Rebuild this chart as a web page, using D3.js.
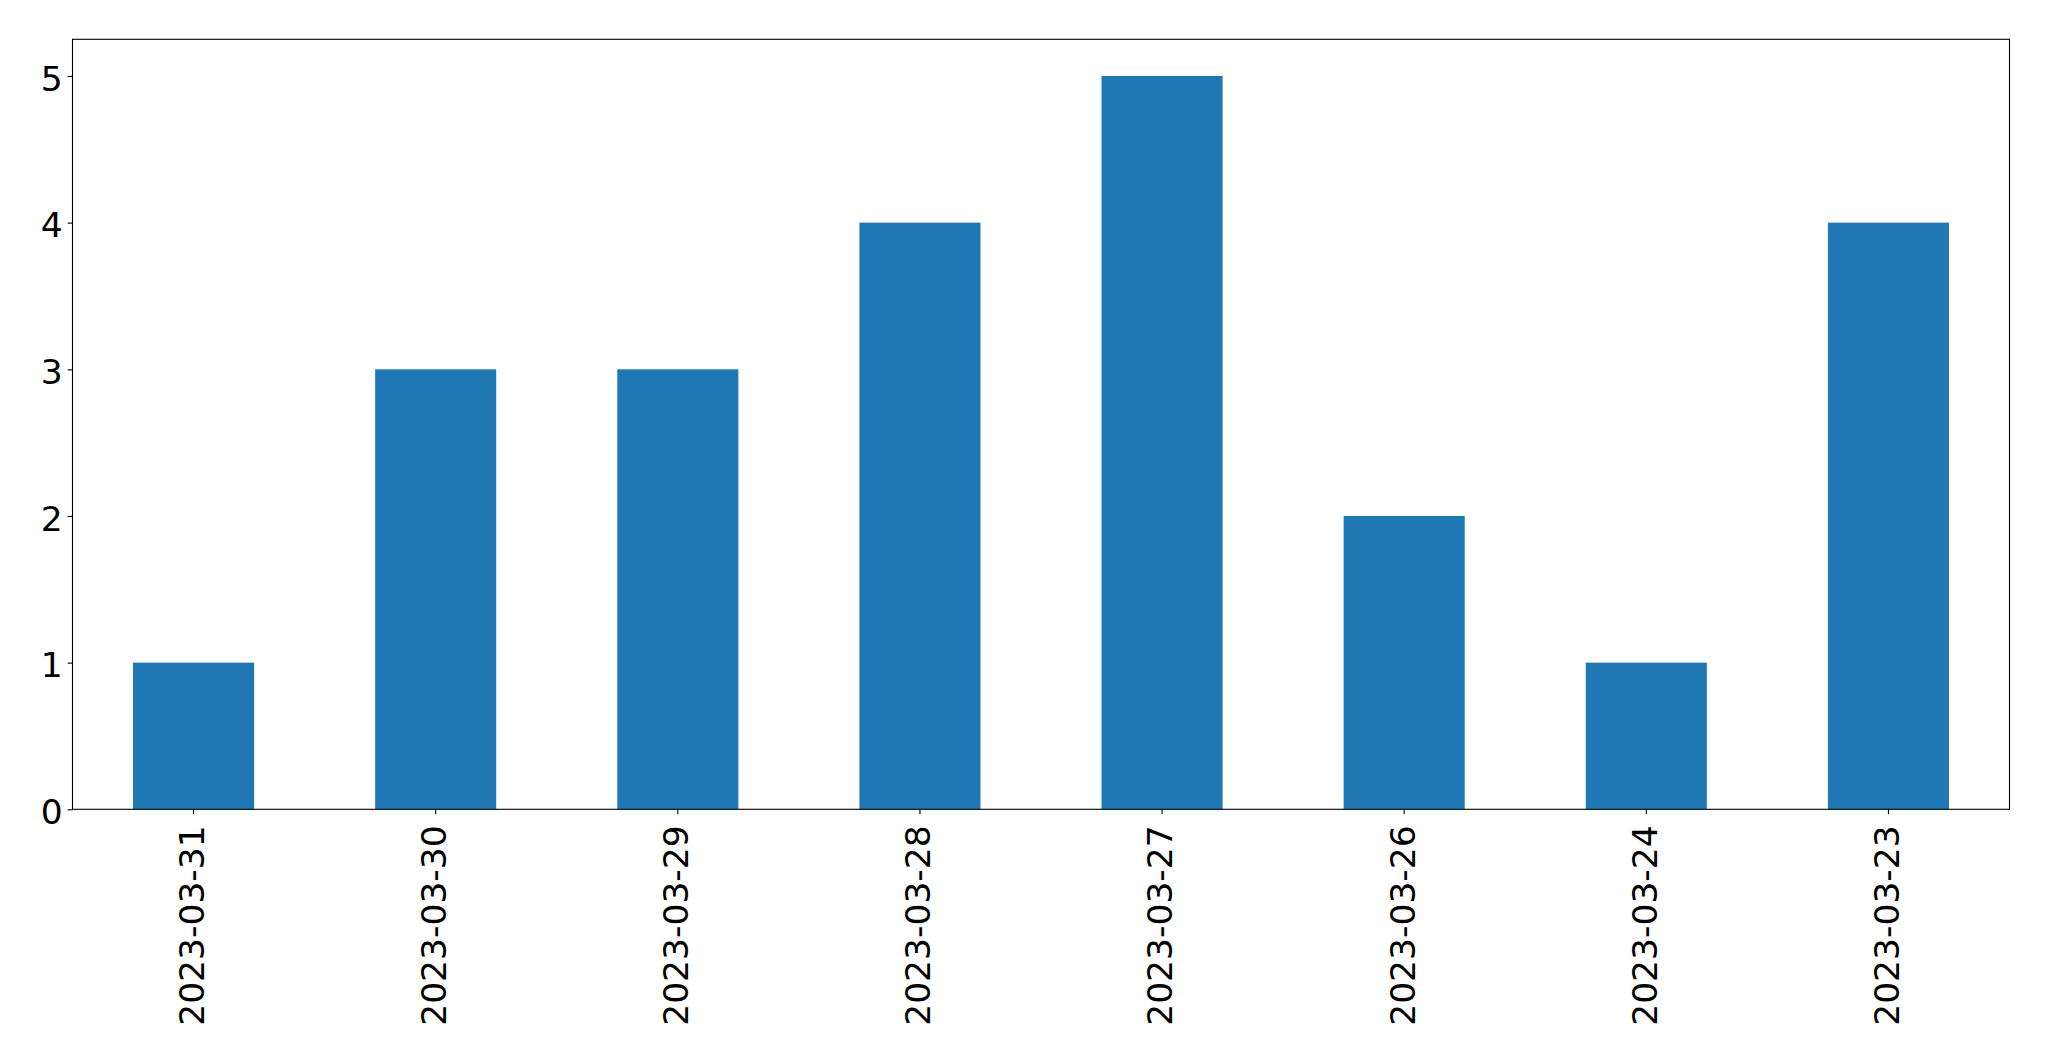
<!DOCTYPE html>
<html><head><meta charset="utf-8">
<script src="https://cdn.jsdelivr.net/npm/d3@7"></script>
<style>body{margin:0;background:#fff}svg{display:block}</style>
</head><body>
<script>
const categories = ["2023-03-31","2023-03-30","2023-03-29","2023-03-28","2023-03-27","2023-03-26","2023-03-24","2023-03-23"];
const values = [1,3,3,4,5,2,1,4];
const yTicks = [0,1,2,3,4,5];

const W = 2049, H = 1061;
const m = {left:72.5, right:2049-2009.5, top:39.3, bottom:1061-809.3};
const svg = d3.select("body").append("svg").attr("width",W).attr("height",H);
const g = svg.append("g").attr("transform",`translate(${m.left},${m.top})`);
const iw = W-m.left-m.right, ih = H-m.top-m.bottom;

const x = d3.scaleBand().domain(categories).range([0,iw]).paddingInner(0.5).paddingOuter(0.25);
const y = d3.scaleLinear().domain([0,5.25]).range([ih,0]);

g.selectAll("rect.bar").data(values).join("rect").attr("class","bar")
  .attr("x",(d,i)=>x(categories[i])).attr("width",x.bandwidth())
  .attr("y",d=>y(d)).attr("height",d=>y(0)-y(d)).attr("fill","#1f77b4");

const font = "'DejaVu Sans', sans-serif";
const fs = "34.5px";
const xa = g.append("g").attr("transform",`translate(0,${ih})`)
  .call(d3.axisBottom(x).tickSize(4.86).tickPadding(4.86).tickSizeOuter(0));
xa.select(".domain").remove();
xa.selectAll("line").attr("stroke","#000").attr("stroke-width",1.1);
xa.selectAll("text").attr("font-family",font).attr("font-size",fs).attr("fill","#000")
  .attr("text-anchor","end").attr("dy","0.3em").attr("y",0).attr("x",0)
  .attr("transform","translate(0,16) rotate(-90)");

const ya = g.append("g").call(d3.axisLeft(y).tickValues(yTicks).tickFormat(d3.format("d")).tickSize(4.86).tickPadding(4.86).tickSizeOuter(0));
ya.select(".domain").remove();
ya.selectAll("line").attr("stroke","#000").attr("stroke-width",1.1);
ya.selectAll("text").attr("font-family",font).attr("font-size",fs).attr("fill","#000").attr("dy","0.41em");

g.append("rect").attr("x",0).attr("y",0).attr("width",iw).attr("height",ih)
  .attr("fill","none").attr("stroke","#000").attr("stroke-width",1.1);
</script>
</body></html>
